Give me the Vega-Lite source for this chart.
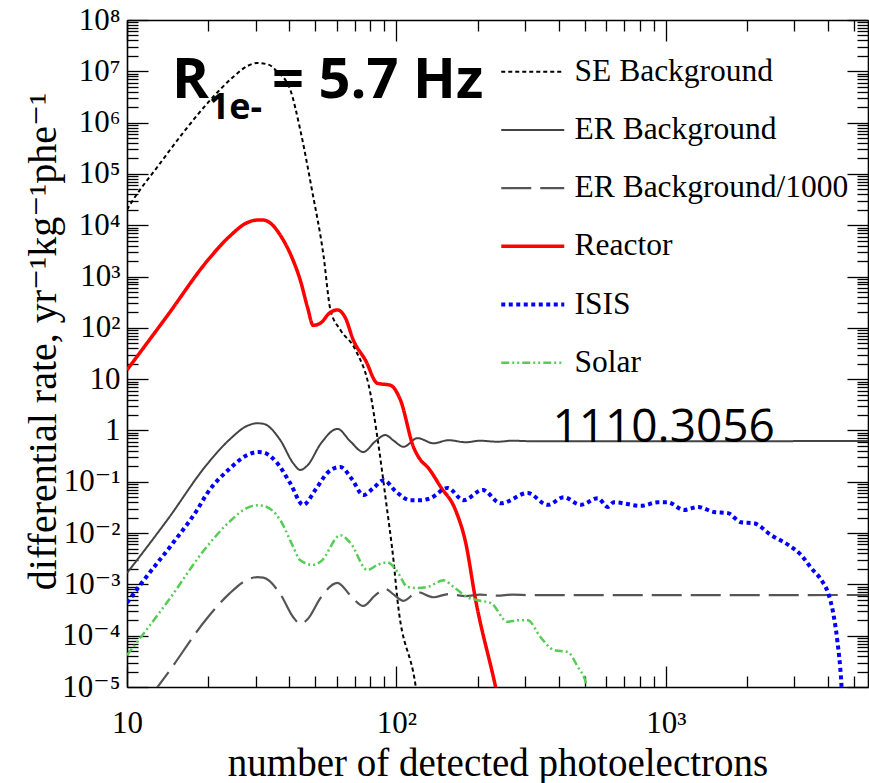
{
  "$schema": "https://vega.github.io/schema/vega-lite/v6.json",
  "width": 741,
  "height": 667,
  "autosize": {"type": "none"},
  "padding": {"left": 127, "top": 20, "right": 1, "bottom": 96},
  "background": "white",
  "config": {"view": {"stroke": null}, "font": "Liberation Serif"},
  "datasets": {
    "curves": [
      {"series": "SE Background", "x": 10, "y": 2.0e4},
      {"series": "SE Background", "x": 10.52, "y": 3.09e4},
      {"series": "SE Background", "x": 12.94, "y": 1.35e5},
      {"series": "SE Background", "x": 16.14, "y": 6.31e5},
      {"series": "SE Background", "x": 20.37, "y": 2.75e6},
      {"series": "SE Background", "x": 24.77, "y": 7.76e6},
      {"series": "SE Background", "x": 27.93, "y": 1.26e7},
      {"series": "SE Background", "x": 30.41, "y": 1.45e7},
      {"series": "SE Background", "x": 33.5, "y": 1.35e7},
      {"series": "SE Background", "x": 36.14, "y": 9.77e6},
      {"series": "SE Background", "x": 40.36, "y": 4.37e6},
      {"series": "SE Background", "x": 43.95, "y": 7.24e5},
      {"series": "SE Background", "x": 48.53, "y": 5.0e4},
      {"series": "SE Background", "x": 53.58, "y": 2630},
      {"series": "SE Background", "x": 56.89, "y": 224},
      {"series": "SE Background", "x": 61.94, "y": 91.2},
      {"series": "SE Background", "x": 70.47, "y": 37.2},
      {"series": "SE Background", "x": 79.98, "y": 5.37},
      {"series": "SE Background", "x": 84.92, "y": 0.741},
      {"series": "SE Background", "x": 91.83, "y": 0.0355},
      {"series": "SE Background", "x": 97.5, "y": 2.95e-3},
      {"series": "SE Background", "x": 100.9, "y": 4.9e-4},
      {"series": "SE Background", "x": 117.8, "y": 1.05e-5},
      {"series": "SE Background", "x": 120.2, "y": 5e-6},

      {"series": "ER Background", "x": 10, "y": 1.66e-3},
      {"series": "ER Background", "x": 14.13, "y": 0.0182},
      {"series": "ER Background", "x": 19.82, "y": 0.219},
      {"series": "ER Background", "x": 23.99, "y": 0.661},
      {"series": "ER Background", "x": 27.93, "y": 1.23},
      {"series": "ER Background", "x": 30.41, "y": 1.38},
      {"series": "ER Background", "x": 32.06, "y": 1.35},
      {"series": "ER Background", "x": 37.07, "y": 0.646},
      {"series": "ER Background", "x": 41.4, "y": 0.229},
      {"series": "ER Background", "x": 43.95, "y": 0.170},
      {"series": "ER Background", "x": 46.77, "y": 0.209},
      {"series": "ER Background", "x": 52.48, "y": 0.562},
      {"series": "ER Background", "x": 60.39, "y": 1.072},
      {"series": "ER Background", "x": 67.61, "y": 0.603},
      {"series": "ER Background", "x": 75.34, "y": 0.380},
      {"series": "ER Background", "x": 83.18, "y": 0.603},
      {"series": "ER Background", "x": 90.99, "y": 0.813},
      {"series": "ER Background", "x": 97.72, "y": 0.631},
      {"series": "ER Background", "x": 106.2, "y": 0.479},
      {"series": "ER Background", "x": 119.7, "y": 0.708},
      {"series": "ER Background", "x": 137.4, "y": 0.562},
      {"series": "ER Background", "x": 156.0, "y": 0.646},
      {"series": "ER Background", "x": 180.7, "y": 0.589},
      {"series": "ER Background", "x": 204.2, "y": 0.631},
      {"series": "ER Background", "x": 237.1, "y": 0.603},
      {"series": "ER Background", "x": 269.2, "y": 0.631},
      {"series": "ER Background", "x": 316.2, "y": 0.617},
      {"series": "ER Background", "x": 5623, "y": 0.621},

      {"series": "ER Background/1000", "x": 10, "y": 1.66e-6},
      {"series": "ER Background/1000", "x": 14.13, "y": 1.82e-5},
      {"series": "ER Background/1000", "x": 19.82, "y": 2.19e-4},
      {"series": "ER Background/1000", "x": 23.99, "y": 6.61e-4},
      {"series": "ER Background/1000", "x": 27.93, "y": 1.23e-3},
      {"series": "ER Background/1000", "x": 30.41, "y": 1.38e-3},
      {"series": "ER Background/1000", "x": 32.06, "y": 1.35e-3},
      {"series": "ER Background/1000", "x": 37.07, "y": 6.46e-4},
      {"series": "ER Background/1000", "x": 41.4, "y": 2.29e-4},
      {"series": "ER Background/1000", "x": 43.95, "y": 1.70e-4},
      {"series": "ER Background/1000", "x": 46.77, "y": 2.09e-4},
      {"series": "ER Background/1000", "x": 52.48, "y": 5.62e-4},
      {"series": "ER Background/1000", "x": 60.39, "y": 1.072e-3},
      {"series": "ER Background/1000", "x": 67.61, "y": 6.03e-4},
      {"series": "ER Background/1000", "x": 75.34, "y": 3.80e-4},
      {"series": "ER Background/1000", "x": 83.18, "y": 6.03e-4},
      {"series": "ER Background/1000", "x": 90.99, "y": 8.13e-4},
      {"series": "ER Background/1000", "x": 97.72, "y": 6.31e-4},
      {"series": "ER Background/1000", "x": 106.2, "y": 4.79e-4},
      {"series": "ER Background/1000", "x": 119.7, "y": 7.08e-4},
      {"series": "ER Background/1000", "x": 137.4, "y": 5.62e-4},
      {"series": "ER Background/1000", "x": 156.0, "y": 6.46e-4},
      {"series": "ER Background/1000", "x": 180.7, "y": 5.89e-4},
      {"series": "ER Background/1000", "x": 204.2, "y": 6.31e-4},
      {"series": "ER Background/1000", "x": 237.1, "y": 6.03e-4},
      {"series": "ER Background/1000", "x": 269.2, "y": 6.31e-4},
      {"series": "ER Background/1000", "x": 316.2, "y": 6.17e-4},
      {"series": "ER Background/1000", "x": 5623, "y": 6.21e-4},

      {"series": "Reactor", "x": 10, "y": 15.1},
      {"series": "Reactor", "x": 14.13, "y": 174},
      {"series": "Reactor", "x": 19.82, "y": 1995},
      {"series": "Reactor", "x": 23.99, "y": 6026},
      {"series": "Reactor", "x": 27.93, "y": 11220},
      {"series": "Reactor", "x": 30.41, "y": 12590},
      {"series": "Reactor", "x": 32.06, "y": 12590},
      {"series": "Reactor", "x": 38.02, "y": 5129},
      {"series": "Reactor", "x": 41.02, "y": 2291},
      {"series": "Reactor", "x": 43.95, "y": 851},
      {"series": "Reactor", "x": 46.77, "y": 251},
      {"series": "Reactor", "x": 49.09, "y": 112},
      {"series": "Reactor", "x": 52.48, "y": 126},
      {"series": "Reactor", "x": 56.23, "y": 191},
      {"series": "Reactor", "x": 60.39, "y": 224},
      {"series": "Reactor", "x": 64.57, "y": 158},
      {"series": "Reactor", "x": 69.18, "y": 57.5},
      {"series": "Reactor", "x": 76.74, "y": 23.4},
      {"series": "Reactor", "x": 84.92, "y": 8.32},
      {"series": "Reactor", "x": 95.06, "y": 7.59},
      {"series": "Reactor", "x": 103.5, "y": 3.89},
      {"series": "Reactor", "x": 115.6, "y": 0.479},
      {"series": "Reactor", "x": 123.0, "y": 0.263},
      {"series": "Reactor", "x": 130.3, "y": 0.195},
      {"series": "Reactor", "x": 145.9, "y": 0.0794},
      {"series": "Reactor", "x": 165.6, "y": 0.0282},
      {"series": "Reactor", "x": 180.7, "y": 6.46e-3},
      {"series": "Reactor", "x": 196.8, "y": 4.9e-4},
      {"series": "Reactor", "x": 233.3, "y": 1e-5},
      {"series": "Reactor", "x": 239.9, "y": 5e-6},

      {"series": "ISIS", "x": 10, "y": 4.37e-4},
      {"series": "ISIS", "x": 11.46, "y": 1.148e-3},
      {"series": "ISIS", "x": 14.83, "y": 6.46e-3},
      {"series": "ISIS", "x": 18.2, "y": 0.0282},
      {"series": "ISIS", "x": 19.82, "y": 0.0589},
      {"series": "ISIS", "x": 23.99, "y": 0.178},
      {"series": "ISIS", "x": 27.93, "y": 0.331},
      {"series": "ISIS", "x": 30.69, "y": 0.380},
      {"series": "ISIS", "x": 32.06, "y": 0.372},
      {"series": "ISIS", "x": 36.14, "y": 0.229},
      {"series": "ISIS", "x": 40.36, "y": 0.0933},
      {"series": "ISIS", "x": 45.08, "y": 0.0355},
      {"series": "ISIS", "x": 50.12, "y": 0.0708},
      {"series": "ISIS", "x": 55.59, "y": 0.151},
      {"series": "ISIS", "x": 61.94, "y": 0.195},
      {"series": "ISIS", "x": 68.39, "y": 0.112},
      {"series": "ISIS", "x": 75.34, "y": 0.0550},
      {"series": "ISIS", "x": 82.22, "y": 0.0759},
      {"series": "ISIS", "x": 89.54, "y": 0.107},
      {"series": "ISIS", "x": 100, "y": 0.0631},
      {"series": "ISIS", "x": 112.7, "y": 0.0437},
      {"series": "ISIS", "x": 123.0, "y": 0.0437},
      {"series": "ISIS", "x": 133.7, "y": 0.0479},
      {"series": "ISIS", "x": 154.9, "y": 0.0759},
      {"series": "ISIS", "x": 177.4, "y": 0.0437},
      {"series": "ISIS", "x": 208.9, "y": 0.0692},
      {"series": "ISIS", "x": 243.8, "y": 0.0380},
      {"series": "ISIS", "x": 306.9, "y": 0.0603},
      {"series": "ISIS", "x": 363.9, "y": 0.0355},
      {"series": "ISIS", "x": 417.8, "y": 0.0501},
      {"series": "ISIS", "x": 483.1, "y": 0.0355},
      {"series": "ISIS", "x": 558.5, "y": 0.0479},
      {"series": "ISIS", "x": 608.1, "y": 0.0324},
      {"series": "ISIS", "x": 641.2, "y": 0.0398},
      {"series": "ISIS", "x": 807.2, "y": 0.0339},
      {"series": "ISIS", "x": 933.3, "y": 0.0398},
      {"series": "ISIS", "x": 1016, "y": 0.0398},
      {"series": "ISIS", "x": 1167, "y": 0.0282},
      {"series": "ISIS", "x": 1315, "y": 0.0324},
      {"series": "ISIS", "x": 1507, "y": 0.0257},
      {"series": "ISIS", "x": 1698, "y": 0.0245},
      {"series": "ISIS", "x": 1901, "y": 0.0162},
      {"series": "ISIS", "x": 2123, "y": 0.0155},
      {"series": "ISIS", "x": 2455, "y": 9.12e-3},
      {"series": "ISIS", "x": 2844, "y": 5.89e-3},
      {"series": "ISIS", "x": 3177, "y": 3.72e-3},
      {"series": "ISIS", "x": 3459, "y": 2.09e-3},
      {"series": "ISIS", "x": 3767, "y": 1.23e-3},
      {"series": "ISIS", "x": 3999, "y": 6.76e-4},
      {"series": "ISIS", "x": 4178, "y": 2.75e-4},
      {"series": "ISIS", "x": 4325, "y": 8.13e-5},
      {"series": "ISIS", "x": 4477, "y": 1.2e-5},
      {"series": "ISIS", "x": 4519, "y": 5e-6},

      {"series": "Solar", "x": 10, "y": 4.17e-5},
      {"series": "Solar", "x": 14.13, "y": 4.57e-4},
      {"series": "Solar", "x": 19.82, "y": 5.50e-3},
      {"series": "Solar", "x": 23.99, "y": 0.0166},
      {"series": "Solar", "x": 27.93, "y": 0.0309},
      {"series": "Solar", "x": 30.41, "y": 0.0347},
      {"series": "Solar", "x": 32.06, "y": 0.0339},
      {"series": "Solar", "x": 37.07, "y": 0.0178},
      {"series": "Solar", "x": 41.4, "y": 5.37e-3},
      {"series": "Solar", "x": 43.95, "y": 2.95e-3},
      {"series": "Solar", "x": 48.98, "y": 2.40e-3},
      {"series": "Solar", "x": 52.48, "y": 2.82e-3},
      {"series": "Solar", "x": 61.94, "y": 9.12e-3},
      {"series": "Solar", "x": 67.45, "y": 6.46e-3},
      {"series": "Solar", "x": 77.98, "y": 1.91e-3},
      {"series": "Solar", "x": 85.11, "y": 2.40e-3},
      {"series": "Solar", "x": 92.68, "y": 2.69e-3},
      {"series": "Solar", "x": 100.9, "y": 1.74e-3},
      {"series": "Solar", "x": 109.9, "y": 8.91e-4},
      {"series": "Solar", "x": 120.2, "y": 8.51e-4},
      {"series": "Solar", "x": 130.3, "y": 8.91e-4},
      {"series": "Solar", "x": 149.6, "y": 1.20e-3},
      {"series": "Solar", "x": 162.9, "y": 8.91e-4},
      {"series": "Solar", "x": 183.7, "y": 5.62e-4},
      {"series": "Solar", "x": 200, "y": 4.90e-4},
      {"series": "Solar", "x": 223.4, "y": 4.37e-4},
      {"series": "Solar", "x": 258.8, "y": 1.86e-4},
      {"series": "Solar", "x": 281.8, "y": 2.0e-4},
      {"series": "Solar", "x": 306.9, "y": 2.0e-4},
      {"series": "Solar", "x": 342.8, "y": 9.33e-5},
      {"series": "Solar", "x": 383.7, "y": 5.25e-5},
      {"series": "Solar", "x": 432.5, "y": 4.79e-5},
      {"series": "Solar", "x": 471, "y": 2.45e-5},
      {"series": "Solar", "x": 504.7, "y": 1.20e-5},
      {"series": "Solar", "x": 512.9, "y": 5e-6}
    ],
    "notes": [
      {"kind": "big", "text": "R", "x": 14.7, "y": 3.02e6},
      {"kind": "big", "text": "= 5.7 Hz", "x": 34.5, "y": 3.02e6},
      {"kind": "sub", "text": "1e-", "x": 20.1, "y": 1.2e6},
      {"kind": "id", "text": "1110.3056", "x": 379, "y": 0.594}
    ]
  },
  "layer": [
    {
      "data": {"name": "curves"},
      "mark": {"type": "line", "clip": true, "interpolate": "monotone"},
      "encoding": {
        "x": {
          "field": "x", "type": "quantitative",
          "scale": {"type": "log", "domain": [10, 5623], "nice": false},
          "axis": {
            "orient": "bottom",
            "values": [10,20,30,40,50,60,70,80,90,100,200,300,400,500,600,700,800,900,1000,2000,3000,4000,5000],
            "labelExpr": "datum.value==10?'10':datum.value==100?'10²':datum.value==1000?'10³':''",
            "tickSize": {"condition": {"test": "abs(log(datum.value)/LN10 - round(log(datum.value)/LN10)) < 0.001", "value": -21}, "value": -11},
            "tickColor": "black", "tickWidth": 1.3,
            "domainColor": "black", "domainWidth": 1.6,
            "grid": false, "labelFlush": false, "labelOverlap": false,
            "labelFont": "Liberation Serif, DejaVu Serif", "labelFontSize": 31, "labelColor": "black", "labelPadding": 42,
            "title": "number of detected photoelectrons",
            "titleFont": "Liberation Serif", "titleFontSize": 39, "titleFontWeight": "normal", "titleColor": "black",
            "titleX": 370.5, "titleY": 88, "titleBaseline": "alphabetic", "titleAlign": "center"
          }
        },
        "y": {
          "field": "y", "type": "quantitative",
          "scale": {"type": "log", "domain": [1e-5, 1e8], "nice": false},
          "axis": {
            "orient": "left",
            "values": [1e-5,2e-5,3e-5,4e-5,5e-5,6e-5,7e-5,8e-5,9e-5,1e-4,2e-4,3e-4,4e-4,5e-4,6e-4,7e-4,8e-4,9e-4,0.001,0.002,0.003,0.004,0.005,0.006,0.007,0.008,0.009,0.01,0.02,0.03,0.04,0.05,0.06,0.07,0.08,0.09,0.1,0.2,0.3,0.4,0.5,0.6,0.7,0.8,0.9,1,2,3,4,5,6,7,8,9,10,20,30,40,50,60,70,80,90,100,200,300,400,500,600,700,800,900,1000,2000,3000,4000,5000,6000,7000,8000,9000,10000,20000,30000,40000,50000,60000,70000,80000,90000,100000,200000,300000,400000,500000,600000,700000,800000,900000,1000000,2000000,3000000,4000000,5000000,6000000,7000000,8000000,9000000,10000000,20000000,30000000,40000000,50000000,60000000,70000000,80000000,90000000,100000000],
            "labelExpr": "datum.value==100000000?'10⁸':datum.value==10000000?'10⁷':datum.value==1000000?'10⁶':datum.value==100000?'10⁵':datum.value==10000?'10⁴':datum.value==1000?'10³':datum.value==100?'10²':datum.value==10?'10':datum.value==1?'1':datum.value==0.1?'10⁻¹':datum.value==0.01?'10⁻²':datum.value==0.001?'10⁻³':datum.value==0.0001?'10⁻⁴':datum.value==0.00001?'10⁻⁵':''",
            "tickSize": {"condition": {"test": "abs(log(datum.value)/LN10 - round(log(datum.value)/LN10)) < 0.001", "value": -21}, "value": -11},
            "tickColor": "black", "tickWidth": 1.3,
            "domainColor": "black", "domainWidth": 1.6,
            "grid": false, "labelFlush": false, "labelOverlap": false,
            "labelFont": "Liberation Serif, DejaVu Serif", "labelFontSize": 31, "labelColor": "black", "labelPadding": 28,
            "title": "differential rate, yr⁻¹kg⁻¹phe⁻¹",
            "titleFont": "Liberation Serif, DejaVu Serif", "titleFontSize": 40, "titleFontWeight": "normal", "titleColor": "black",
            "titleX": -72, "titleY": 321, "titleBaseline": "alphabetic", "titleAlign": "center", "titleAngle": -90
          }
        },
        "color": {
          "field": "series", "type": "nominal",
          "scale": {
            "domain": ["SE Background", "ER Background", "ER Background/1000", "Reactor", "ISIS", "Solar"],
            "range": ["#000000", "#444444", "#555555", "#ff0000", "#0000ff", "#55cc55"]
          },
          "legend": {
            "orient": "none", "legendX": 390, "legendY": 36, "title": null,
            "symbolType": "M-3,0H3", "symbolSize": 441,
            "labelFont": "Liberation Serif", "labelFontSize": 31.5, "labelColor": "black", "labelLimit": 500,
            "rowPadding": 25.2, "labelOffset": 26, "padding": 0
          }
        },
        "strokeDash": {
          "field": "series", "type": "nominal",
          "scale": {
            "domain": ["SE Background", "ER Background", "ER Background/1000", "Reactor", "ISIS", "Solar"],
            "range": [[4, 3], [1, 0], [30, 9], [1, 0], [4, 3.5], [8, 3, 2, 3, 2, 3]]
          }
        },
        "strokeWidth": {
          "field": "series", "type": "nominal",
          "scale": {
            "type": "ordinal",
            "domain": ["SE Background", "ER Background", "ER Background/1000", "Reactor", "ISIS", "Solar"],
            "range": [2, 2, 2.2, 3.5, 4, 2.5]
          }
        }
      }
    },
    {
      "data": {"name": "curves"},
      "mark": {"type": "point", "opacity": 0},
      "encoding": {
        "x": {
          "field": "x", "type": "quantitative",
          "axis": {
            "orient": "top", "labels": false, "title": null,
            "values": [10,20,30,40,50,60,70,80,90,100,200,300,400,500,600,700,800,900,1000,2000,3000,4000,5000],
            "tickSize": {"condition": {"test": "abs(log(datum.value)/LN10 - round(log(datum.value)/LN10)) < 0.001", "value": -21}, "value": -11},
            "tickColor": "black", "tickWidth": 1.3, "domainColor": "black", "domainWidth": 1.6, "grid": false
          }
        },
        "y": {
          "field": "y", "type": "quantitative",
          "axis": {
            "orient": "right", "labels": false, "title": null,
            "values": [1e-5,2e-5,3e-5,4e-5,5e-5,6e-5,7e-5,8e-5,9e-5,1e-4,2e-4,3e-4,4e-4,5e-4,6e-4,7e-4,8e-4,9e-4,0.001,0.002,0.003,0.004,0.005,0.006,0.007,0.008,0.009,0.01,0.02,0.03,0.04,0.05,0.06,0.07,0.08,0.09,0.1,0.2,0.3,0.4,0.5,0.6,0.7,0.8,0.9,1,2,3,4,5,6,7,8,9,10,20,30,40,50,60,70,80,90,100,200,300,400,500,600,700,800,900,1000,2000,3000,4000,5000,6000,7000,8000,9000,10000,20000,30000,40000,50000,60000,70000,80000,90000,100000,200000,300000,400000,500000,600000,700000,800000,900000,1000000,2000000,3000000,4000000,5000000,6000000,7000000,8000000,9000000,10000000,20000000,30000000,40000000,50000000,60000000,70000000,80000000,90000000,100000000],
            "tickSize": {"condition": {"test": "abs(log(datum.value)/LN10 - round(log(datum.value)/LN10)) < 0.001", "value": -21}, "value": -11},
            "tickColor": "black", "tickWidth": 1.3, "domainColor": "black", "domainWidth": 1.6, "grid": false
          }
        }
      }
    },
    {
      "data": {"name": "notes"},
      "transform": [{"filter": "datum.kind == 'big'"}],
      "mark": {"type": "text", "font": "Open Sans", "fontWeight": "bold", "fontSize": 56, "align": "left", "baseline": "alphabetic", "color": "black"},
      "encoding": {
        "x": {"field": "x", "type": "quantitative", "axis": null},
        "y": {"field": "y", "type": "quantitative", "axis": null},
        "text": {"field": "text"}
      }
    },
    {
      "data": {"name": "notes"},
      "transform": [{"filter": "datum.kind == 'sub'"}],
      "mark": {"type": "text", "font": "Open Sans", "fontWeight": "bold", "fontSize": 36, "align": "left", "baseline": "alphabetic", "color": "black"},
      "encoding": {
        "x": {"field": "x", "type": "quantitative", "axis": null},
        "y": {"field": "y", "type": "quantitative", "axis": null},
        "text": {"field": "text"}
      }
    },
    {
      "data": {"name": "notes"},
      "transform": [{"filter": "datum.kind == 'id'"}],
      "mark": {"type": "text", "font": "Open Sans", "fontSize": 46, "align": "left", "baseline": "alphabetic", "color": "black"},
      "encoding": {
        "x": {"field": "x", "type": "quantitative", "axis": null},
        "y": {"field": "y", "type": "quantitative", "axis": null},
        "text": {"field": "text"}
      }
    }
  ],
  "resolve": {"axis": {"x": "independent", "y": "independent"}}
}
